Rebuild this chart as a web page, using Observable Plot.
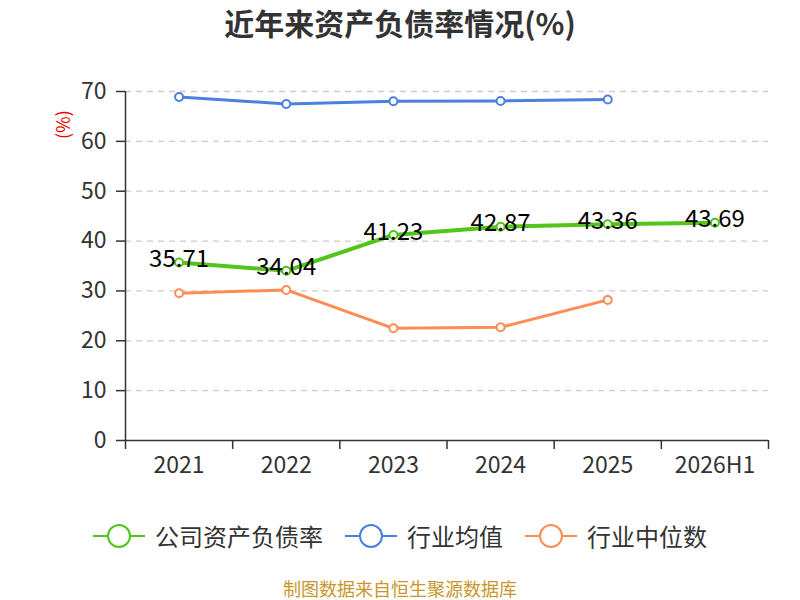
<!DOCTYPE html>
<html><head><meta charset="utf-8">
<script src="https://cdn.jsdelivr.net/npm/d3@7"></script>
<script src="https://cdn.jsdelivr.net/npm/@observablehq/plot@0.6"></script>
<style>
body{margin:0;background:#fff;font-family:"Noto Sans CJK SC","Noto Sans",sans-serif;}
#wrap{position:relative;width:800px;height:600px;overflow:hidden;}
#title{position:absolute;top:2px;left:0;width:800px;text-align:center;font-size:30px;font-weight:bold;color:#333;line-height:40px;}
#chart{position:absolute;top:60px;left:0;}
#chart svg text{font-size:23px;}
#chart svg g.labels text{font-size:24px;}
#unit{position:absolute;left:48px;top:113px;color:#e00;font-size:18px;transform:rotate(-90deg);transform-origin:center;width:28px;text-align:center;line-height:24px;}
#legend{position:absolute;top:520px;left:0;width:800px;display:flex;justify-content:center;gap:22px;font-size:24px;color:#333;line-height:32px;}
.li{display:flex;align-items:center;gap:10px;}
#caption{position:absolute;top:577px;left:0;width:800px;text-align:center;font-size:18px;color:#c8962a;line-height:22px;}
</style></head>
<body><div id="wrap">
<div id="title">近年来资产负债率情况(%)</div>
<div id="unit">(%)</div>
<div id="chart"></div>
<div id="legend"></div>
<div id="caption">制图数据来自恒生聚源数据库</div>
</div>
<script>
const categories = ["2021","2022","2023","2024","2025","2026H1"];
const companyRatio = [35.71, 34.04, 41.23, 42.87, 43.36, 43.69];
const industryAvg = [68.9, 67.5, 68.05, 68.1, 68.4];
const industryMedian = [29.55, 30.2, 22.5, 22.7, 28.2];
const yTicks = [0,10,20,30,40,50,60,70];
const seriesNames = ["公司资产负债率","行业均值","行业中位数"];
const colors = ["#52c41a","#4a80e0","#ff8c55"];

const rows = s => (arr) => arr.map((v,i)=>({x:i+0.5, y:v, cat:categories[i], s}));
const comp = rows(0)(companyRatio);
const avg = rows(1)(industryAvg);
const med = rows(2)(industryMedian);
const boundaries = d3.range(categories.length+1);

const plot = Plot.plot({
  width:800, height:430,
  marginLeft:125, marginRight:32, marginTop:31, marginBottom:50,
  style:{fontFamily:'"Noto Sans CJK SC","Noto Sans",sans-serif', color:"#333", background:"transparent"},
  x:{type:"linear", domain:[0,categories.length], axis:null},
  y:{domain:[0,70], axis:null},
  marks:[
    Plot.ruleY(yTicks.filter(d=>d>0), {stroke:"#ccc", strokeWidth:1.3, strokeDasharray:"6,5"}),
    Plot.ruleY([0], {stroke:"#333", strokeWidth:1.5}),
    Plot.ruleX([0], {y1:0, y2:70, stroke:"#333", strokeWidth:1.5}),
    Plot.axisY({ticks:yTicks, tickSize:9, tickPadding:10, stroke:"#333", strokeWidth:1.5, tickFormat:d=>d, label:null, color:"#333"}),
    Plot.axisX({ticks:boundaries, tickSize:9, tickFormat:()=>"", label:null, stroke:"#333", strokeWidth:1.5}),
    Plot.axisX({ticks:categories.map((c,i)=>i+0.5), tickSize:0, tickPadding:16, tickFormat:(d)=>categories[Math.round(d-0.5)], label:null, color:"#333"}),
    Plot.line(avg, {x:"x", y:"y", stroke:colors[1], strokeWidth:3}),
    Plot.line(med, {x:"x", y:"y", stroke:colors[2], strokeWidth:3}),
    Plot.line(comp, {x:"x", y:"y", stroke:colors[0], strokeWidth:4}),
    Plot.dot(avg, {x:"x", y:"y", r:4, fill:"#fff", stroke:colors[1], strokeWidth:2}),
    Plot.dot(med, {x:"x", y:"y", r:4, fill:"#fff", stroke:colors[2], strokeWidth:2}),
    Plot.dot(comp, {x:"x", y:"y", r:4, fill:"#fff", stroke:colors[0], strokeWidth:2}),
    Plot.text(comp, {x:"x", y:"y", text:d=>d.y.toFixed(2), dy:-3, fill:"#000", className:"labels"})
  ]
});
document.getElementById("chart").appendChild(plot);

const leg = document.getElementById("legend");
seriesNames.forEach((n,i)=>{
  const d = document.createElement("div"); d.className="li";
  d.innerHTML = `<svg width="52" height="26"><line x1="0" y1="13" x2="52" y2="13" stroke="${colors[i]}" stroke-width="2"/><circle cx="26" cy="13" r="11" fill="#fff" stroke="${colors[i]}" stroke-width="2"/></svg><span>${n}</span>`;
  leg.appendChild(d);
});
</script>
</body></html>
